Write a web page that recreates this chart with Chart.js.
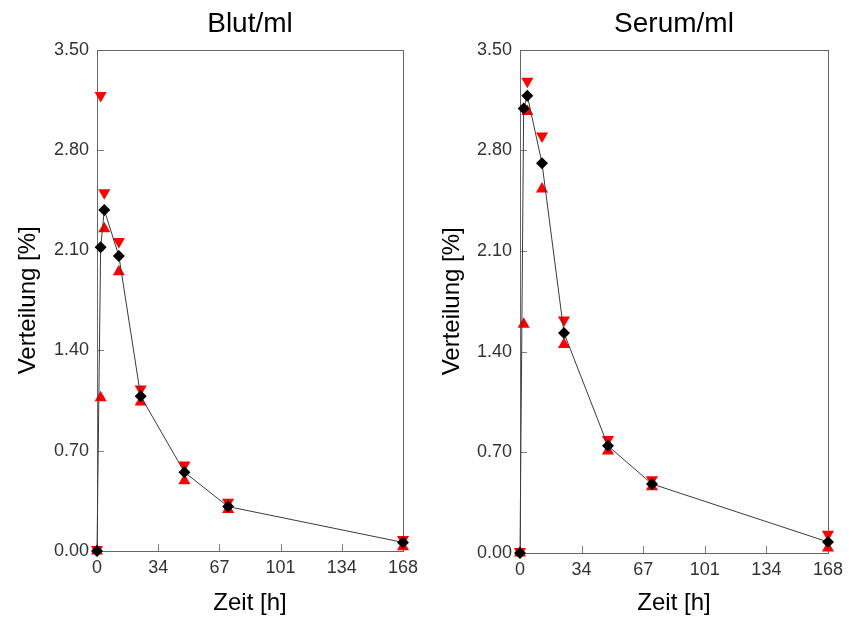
<!DOCTYPE html>
<html>
<head>
<meta charset="utf-8">
<script src="https://cdn.jsdelivr.net/npm/chart.js@4"></script>
<style>
  html, body { margin: 0; padding: 0; background: #fff; }
  #wrap { position: relative; width: 849px; height: 620px; }
  #blut { position: absolute; left: 0; top: 0; }
  #serum { position: absolute; left: 424px; top: 0; }
</style>
</head>
<body>
<div id="wrap">
  <canvas id="blut" width="424" height="620"></canvas>
  <canvas id="serum" width="425" height="620"></canvas>
</div>
<script>
// sampling times [h]
const hours = [0, 2, 4, 12, 24, 48, 72, 168];

// Blut/ml: mean, mean+SD, mean-SD
const bloodMean  = [0, 2.12, 2.38, 2.06, 1.08, 0.55, 0.31, 0.06];
const bloodUpper = [0.01, 3.18, 2.50, 2.16, 1.13, 0.60, 0.34, 0.08];
const bloodLower = [0, 1.07, 2.25, 1.95, 1.04, 0.49, 0.29, 0.03];

// Serum/ml
const serumMean  = [0, 3.09, 3.18, 2.71, 1.53, 0.745, 0.48, 0.077];
const serumUpper = [0.01, 4.59, 3.28, 2.90, 1.62, 0.79, 0.51, 0.13];
const serumLower = [0, 1.59, 3.07, 2.53, 1.45, 0.71, 0.46, 0.035];

const xTickValues = [0, 33.6, 67.2, 100.8, 134.4, 168];
const xTickLabels = ['0', '34', '67', '101', '134', '168'];
const yTickValues = [0, 0.7, 1.4, 2.1, 2.8, 3.5];
const yTickLabels = ['0.00', '0.70', '1.40', '2.10', '2.80', '3.50'];

const FONT = "'Liberation Sans', Arial, sans-serif";

// box around the plot plus ticks pointing inward
const framePlugin = {
  id: 'frame',
  beforeDatasetsDraw(chart) {
    const { ctx, chartArea: a, scales: { x, y } } = chart;
    ctx.save();
    ctx.lineWidth = 1;
    ctx.strokeStyle = '#808080';
    ctx.beginPath();
    x.ticks.forEach(t => {
      const px = Math.round(x.getPixelForValue(t.value)) + 0.5;
      ctx.moveTo(px, a.bottom);
      ctx.lineTo(px, a.bottom - 7);
    });
    y.ticks.forEach(t => {
      const py = Math.round(y.getPixelForValue(t.value)) + 0.5;
      ctx.moveTo(a.left, py);
      ctx.lineTo(a.left + 7, py);
    });
    ctx.stroke();
    ctx.strokeStyle = '#666';
    ctx.strokeRect(Math.round(a.left) + 0.5, Math.round(a.top) + 0.5,
      Math.round(a.width), Math.round(a.height));
    ctx.restore();
  }
};

function points(values) {
  return hours.map((h, i) => ({ x: h, y: values[i] }));
}

function buildChart(id, titleText, mean, upper, lower, yAxisWidth, xAxisHeight, padRight) {
  new Chart(document.getElementById(id), {
    type: 'line',
    data: {
      datasets: [{
        label: 'Mittelwert',
        data: points(mean),
        borderColor: '#3a3a3a',
        borderWidth: 1,
        pointStyle: 'rectRot',
        pointRadius: 6,
        pointBackgroundColor: '#000',
        pointBorderColor: '#000',
        pointBorderWidth: 0,
        clip: false,
      }, {
        label: '+SD',
        data: points(upper),
        showLine: false,
        pointStyle: 'triangle',
        pointRotation: 180,
        pointRadius: 7,
        pointBackgroundColor: '#ff0000',
        pointBorderColor: '#ff0000',
        pointBorderWidth: 0,
        clip: false,
      }, {
        label: '-SD',
        data: points(lower),
        showLine: false,
        pointStyle: 'triangle',
        pointRadius: 7,
        pointBackgroundColor: '#ff0000',
        pointBorderColor: '#ff0000',
        pointBorderWidth: 0,
        clip: false,
      }],
    },
    options: {
      responsive: false,
      animation: false,
      layout: { padding: { left: 0, right: padRight, top: 0, bottom: 0 } },
      plugins: {
        legend: { display: false },
        tooltip: { enabled: false },
        title: {
          display: true,
          text: titleText,
          fullSize: false,
          color: '#000',
          font: { family: FONT, size: 28, weight: 'normal' },
          padding: { top: 7, bottom: 9 },
        },
      },
      scales: {
        x: {
          type: 'linear',
          min: 0,
          max: 168,
          afterBuildTicks: s => { s.ticks = xTickValues.map(v => ({ value: v })); },
          afterFit: s => { s.height = xAxisHeight; },
          grid: { display: false, drawTicks: false },
          border: { display: false },
          ticks: {
            padding: 6,
            color: '#333',
            font: { family: FONT, size: 18 },
            maxRotation: 0,
            callback: (v, i) => xTickLabels[i],
          },
          title: {
            display: true,
            text: 'Zeit [h]',
            color: '#000',
            font: { family: FONT, size: 24 },
            padding: { top: 0, bottom: 2 },
          },
        },
        y: {
          min: 0,
          max: 3.5,
          afterBuildTicks: s => { s.ticks = yTickValues.map(v => ({ value: v })); },
          afterFit: s => { s.width = yAxisWidth; },
          grid: { display: false, drawTicks: false },
          border: { display: false },
          ticks: {
            padding: 8,
            color: '#333',
            font: { family: FONT, size: 18 },
            callback: (v, i) => yTickLabels[i],
          },
          title: {
            display: true,
            text: 'Verteilung [%]',
            color: '#000',
            font: { family: FONT, size: 24 },
            padding: { top: 14, bottom: 0 },
          },
        },
      },
    },
    plugins: [framePlugin],
  });
}

buildChart('blut', 'Blut/ml', bloodMean, bloodUpper, bloodLower, 97, 69, 19);
buildChart('serum', 'Serum/ml', serumMean, serumUpper, serumLower, 96, 67, 17);
</script>
</body>
</html>
